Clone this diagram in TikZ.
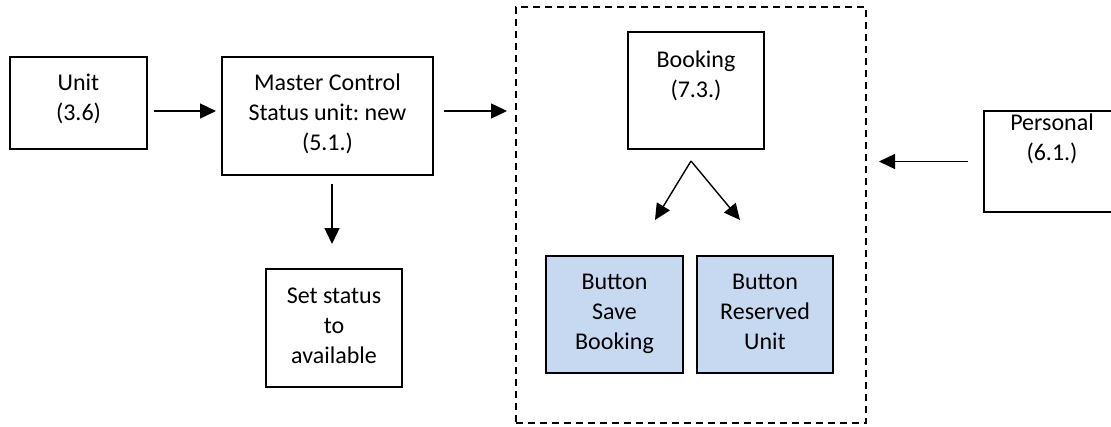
\documentclass[tikz,border=0pt]{standalone}
\usepackage{fontspec}
\setmainfont{Carlito}
\usetikzlibrary{arrows.meta,calc}
\definecolor{btnfill}{RGB}{198,217,240}
\newcommand{\ls}{\strut}
\frenchspacing
\begin{document}
\begin{tikzpicture}[x=1pt,y=-1pt,
  box/.style={draw=black, line width=1.6pt, rectangle, inner sep=0pt, outer sep=0pt},
  btn/.style={box, fill=btnfill},
  group/.style={draw=black, line width=1.6pt, dash pattern=on 7pt off 5pt, rectangle, inner sep=0pt, outer sep=0pt},
  txt/.style={align=center, inner sep=0pt, font=\fontsize{24}{30}\selectfont},
  arr/.style={line width=1.4pt, -{Triangle[length=16pt,width=15pt]}}]
\useasboundingbox (0,0) rectangle (1111,426);

% boxes
\node[box, minimum width=137pt, minimum height=92pt]  (unit)     at (78.5,103)   {};
\node[box, minimum width=211pt, minimum height=118pt] (mc)       at (327.5,116)  {};
\node[box, minimum width=136pt, minimum height=118pt] (set)      at (334,328)    {};
\node[group, minimum width=350pt, minimum height=416pt] (grp)    at (691,215)    {};
\node[box, minimum width=136pt, minimum height=117pt] (booking)  at (696,90.5)   {};
\node[btn, minimum width=137pt, minimum height=117pt] (save)     at (614.5,314.5) {};
\node[btn, minimum width=136pt, minimum height=117pt] (reserved) at (765,314.5)  {};
\node[box, minimum width=136pt, minimum height=101pt] (personal) at (1052,161.5) {};

% labels
\node[txt] (unit-t)     at (78.5,99.5)  {\ls Unit\\\ls (3.6)};
\node[txt] (mc-t)       at (327.5,114.5) {\ls Master Control\\\ls Status unit: new\\\ls (5.1.)};
\node[txt] (set-t)      at (334,327.5)  {\ls Set status\\\ls to\\\ls available};
\node[txt] (booking-t)  at (696,76.5)   {\ls Booking\\\ls (7.3.)};
\node[txt] (save-t)     at (614.5,313.5) {\ls Button\\\ls Save\\\ls Booking};
\node[txt] (reserved-t) at (765,313.5)  {\ls Button\\\ls Reserved\\\ls Unit};
\node[txt] (personal-t) at (1052,139)   {\ls Personal\\\ls (6.1.)};

% connectors
\draw[arr] ([shift={(7,8)}]unit.east) -- ([shift={(-6,-5)}]mc.west);
\coordinate (a1) at ([shift={(11,-5)}]mc.east);
\draw[arr, shorten >=9pt] (a1) -- (a1 -| grp.west);
\coordinate (a2) at ([shift={(4.5,9)}]mc.south);
\draw[arr, shorten >=25pt] (a2) -- (a2 |- set.north);
\coordinate (a3) at ([xshift=-16pt]personal.west);
\draw[arr, shorten >=13pt] (a3) -- (a3 -| grp.east);
\coordinate (bk) at ([shift={(-5,12)}]booking.south);
\draw[arr] (bk) -- ([shift={(40.5,-36)}]save.north);
\draw[arr] (bk) -- ([shift={(-25,-36)}]reserved.north);
\end{tikzpicture}
\end{document}
